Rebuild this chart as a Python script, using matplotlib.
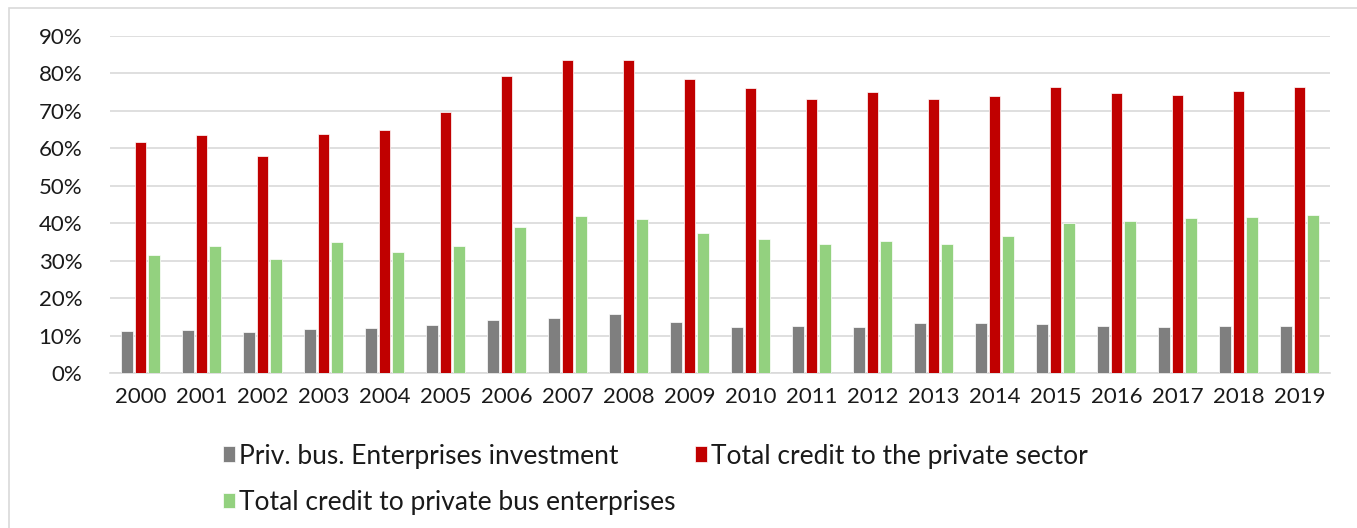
import numpy as np
import matplotlib.pyplot as plt
from matplotlib.patches import Rectangle
from matplotlib.ticker import PercentFormatter

plt.rcParams['font.family'] = ['Lato', 'DejaVu Sans']

years = [str(y) for y in range(2000, 2020)]

# Values in percent
investment = [11.2, 11.4, 11.0, 11.7, 12.0, 12.8, 14.2, 14.6, 15.8, 13.5,
              12.3, 12.6, 12.4, 13.3, 13.4, 13.0, 12.6, 12.3, 12.6, 12.6]
credit_private = [61.8, 63.6, 58.0, 63.7, 65.0, 69.8, 79.2, 83.5, 83.5, 78.5,
                  76.0, 73.3, 75.1, 73.1, 73.9, 76.5, 74.7, 74.3, 75.2, 76.5]
credit_bus = [31.5, 33.8, 30.4, 35.0, 32.3, 33.9, 39.1, 41.9, 41.1, 37.5,
              35.7, 34.5, 35.3, 34.5, 36.7, 40.1, 40.6, 41.3, 41.6, 42.1]

labels = ['Priv. bus. Enterprises investment',
          'Total credit to the private sector',
          'Total credit to private bus enterprises']
colors = ['#7f7f7f', '#c00000', '#93d17f']

fig = plt.figure(figsize=(13.57, 5.28), dpi=100)
ax = fig.add_axes([110 / 1357, 1 - 373 / 528, 1220 / 1357, 337 / 528])

# outer chart frame
fig.patches.append(Rectangle((9 / 1357, -0.1), 1.2, 1 - 8 / 528 + 0.1,
                             transform=fig.transFigure, fill=False,
                             edgecolor='#d9d9d9', linewidth=1.2))

x = np.arange(len(years))
w = 0.185
step = 0.222
bars = []
for i, (vals, lab, col) in enumerate(zip([investment, credit_private, credit_bus],
                                          labels, colors)):
    b = ax.bar(x + (i - 1) * step, vals, width=w, color=col, label=lab,
               edgecolor='white', linewidth=0.5, zorder=3)
    bars.append(b)

ax.set_xlim(-0.5, len(years) - 0.5)
ax.set_ylim(0, 90)
ax.set_yticks(np.arange(0, 91, 10))
ax.yaxis.set_major_formatter(PercentFormatter(decimals=0))
ax.set_xticks(x)
ax.set_xticklabels(years)
ax.tick_params(axis='both', length=0, labelsize=16, colors='#1a1a1a')
ax.tick_params(axis='y', pad=20)
ax.tick_params(axis='x', pad=10)
ax.grid(axis='y', color='#d9d9d9', linewidth=1.2, zorder=0)
for s in ['top', 'left', 'right']:
    ax.spines[s].set_visible(False)
ax.spines['bottom'].set_color('#d9d9d9')
ax.spines['bottom'].set_linewidth(1.2)

leg = fig.legend([bars[0], bars[2], bars[1]],
                 [labels[0], labels[2], labels[1]],
                 ncol=2, loc='upper left', bbox_to_anchor=(199 / 1357, 1 - 420 / 528),
                 frameon=False, fontsize=19, handlelength=0.45, handleheight=0.55,
                 handletextpad=0.15, columnspacing=0.75, labelspacing=0.8)
for t in leg.get_texts():
    t.set_color('#1a1a1a')

fig.savefig('out.png', dpi=100)
